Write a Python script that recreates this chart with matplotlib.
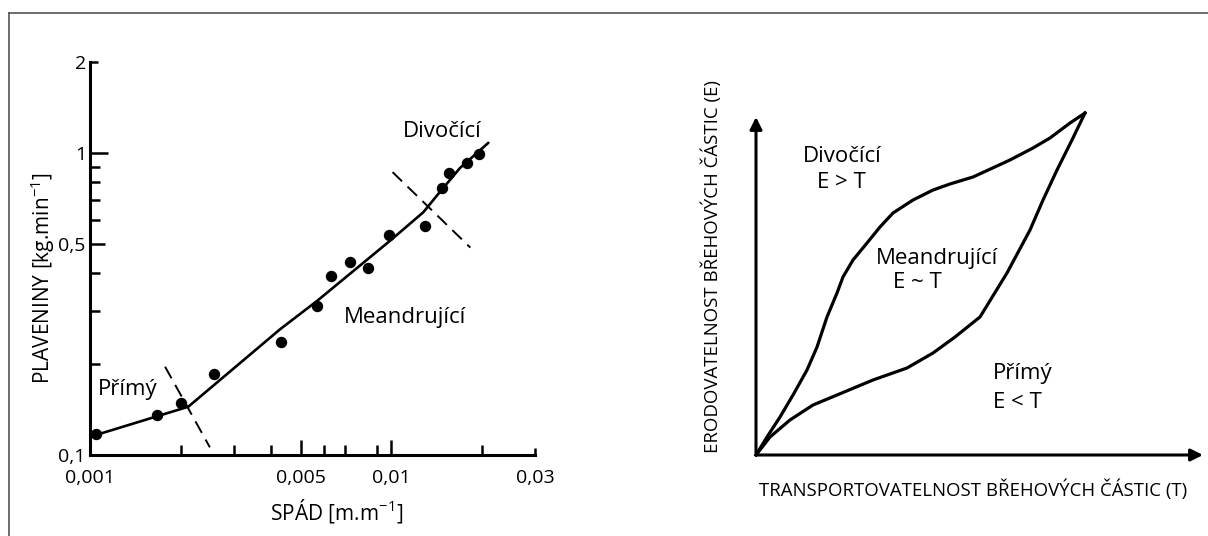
import matplotlib
matplotlib.use("Agg")
import matplotlib.pyplot as plt
from matplotlib.lines import Line2D

# ---------------- data ----------------
# left panel: measured points (slope, suspended load)
slope_pts = [0.00105, 0.00167, 0.0020, 0.00258, 0.00431, 0.00568, 0.00632, 0.0073,
             0.0084, 0.0098, 0.0129, 0.0147, 0.0156, 0.0178, 0.0196]
load_pts = [0.1175, 0.136, 0.149, 0.185, 0.236, 0.311, 0.392, 0.436,
            0.417, 0.533, 0.571, 0.764, 0.858, 0.926, 0.99]
# fitted trend line
slope_fit = [0.00105, 0.00212, 0.00428, 0.00568, 0.00993, 0.01277, 0.0142, 0.0169, 0.021]
load_fit = [0.1166, 0.1445, 0.261, 0.324, 0.513, 0.636, 0.724, 0.891, 1.08]
# dashed boundaries between channel types
bound1_x = [0.001775, 0.0025]
bound1_y = [0.196, 0.106]
bound2_x = [0.0101, 0.0183]
bound2_y = [0.864, 0.486]
# axis ticks
x_major = [0.001, 0.005, 0.01, 0.03]
x_major_labels = ["0,001", "0,005", "0,01", "0,03"]
x_minor = [0.002, 0.003, 0.004, 0.006, 0.007, 0.009, 0.02]
y_major = [0.1, 0.5, 1, 2]
y_major_labels = ["0,1", "0,5", "1", "2"]
y_minor = [0.2, 0.3, 0.4, 0.6, 0.7, 0.8, 0.9]

# right panel: schematic curves (T, E) in relative units
upper_T = [0.0, 0.0246, 0.0537, 0.0828, 0.1141, 0.1365, 0.1588, 0.1812, 0.1946, 0.2170,
           0.2483, 0.2774, 0.3065, 0.3512, 0.3960, 0.4340, 0.4855, 0.5682, 0.6197, 0.6577,
           0.7025, 0.7360]
upper_E = [0.0, 0.0533, 0.1124, 0.1775, 0.2515, 0.3195, 0.4083, 0.4793, 0.5266, 0.5769,
           0.6272, 0.6746, 0.7160, 0.7544, 0.7840, 0.8018, 0.8225, 0.8728, 0.9083, 0.9379,
           0.9822, 1.0118]
lower_T = [0.0, 0.0313, 0.0761, 0.1275, 0.1812, 0.2617, 0.3378, 0.3960, 0.4452, 0.5011,
           0.5615, 0.6130, 0.6421, 0.6734, 0.7069, 0.7360]
lower_E = [0.0, 0.0533, 0.1036, 0.1479, 0.1775, 0.2219, 0.2574, 0.3018, 0.3491, 0.4083,
           0.5385, 0.6657, 0.7544, 0.8432, 0.9320, 1.0118]

# ---------------- figure ----------------
W, H = 1208, 536
plt.rcParams['font.family'] = ['Open Sans', 'DejaVu Sans']
plt.rcParams['mathtext.fontset'] = 'custom'
plt.rcParams['mathtext.rm'] = 'Open Sans'
plt.rcParams['mathtext.it'] = 'Open Sans'

fig = plt.figure(figsize=(W / 100, H / 100), dpi=100)
fig.patch.set_facecolor('white')

def fx(px):
    return px / W

def fy(py):
    return 1 - py / H

# border lines
fig.add_artist(Line2D([fx(9), 1.0], [fy(13), fy(13)], color='#555555', lw=1.2))
fig.add_artist(Line2D([fx(9), fx(9)], [fy(13), 0.0], color='#555555', lw=1.2))

# ---------------- left panel ----------------
ax = fig.add_axes([fx(90), fy(455), (535 - 90) / W, (455 - 62) / H])
ax.set_xscale('log')
ax.set_yscale('log')
ax.set_xlim(0.001, 0.03)
ax.set_ylim(0.1, 2)
for s in ['top', 'right']:
    ax.spines[s].set_visible(False)
for s in ['left', 'bottom']:
    ax.spines[s].set_linewidth(2.2)
ax.set_xticks(x_major)
ax.set_xticklabels(x_major_labels)
ax.set_xticks(x_minor, minor=True)
ax.set_xticklabels([], minor=True)
ax.set_yticks(y_major)
ax.set_yticklabels(y_major_labels)
ax.set_yticks(y_minor, minor=True)
ax.set_yticklabels([], minor=True)
ax.tick_params(which='major', direction='in', length=11, width=1.8, labelsize=14, pad=3)
ax.tick_params(axis='x', which='major', pad=10)
ax.tick_params(which='minor', direction='in', length=7, width=1.8)
# end ticks are short, tick at 1 is longer
ax.xaxis.get_major_ticks()[-1].tick1line.set_markersize(5)
ax.yaxis.get_major_ticks()[-1].tick1line.set_markersize(6)
ax.yaxis.get_major_ticks()[2].tick1line.set_markersize(13)

ax.plot(slope_fit, load_fit, color='black', lw=1.9, solid_joinstyle='round', solid_capstyle='round')
ax.plot(slope_pts, load_pts, 'o', color='black', ms=7.2)
lw_d = 1.4
ax.plot(bound1_x, bound1_y, color='black', lw=lw_d, dashes=(9.5 / lw_d, 5.5 / lw_d))
ax.plot(bound2_x, bound2_y, color='black', lw=lw_d, dashes=(9.5 / lw_d, 5.5 / lw_d))

fig.text(fx(442), fy(132), "Divočící", fontsize=16, ha='center', va='center')
fig.text(fx(405), fy(317), "Meandrující", fontsize=16, ha='center', va='center')
fig.text(fx(128), fy(390), "Přímý", fontsize=16, ha='center', va='center')

fig.text(fx(43), fy(278), r"PLAVENINY [kg.min$^{\mathregular{-1}}$]", fontsize=15,
         rotation=90, ha='center', va='center')
fig.text(fx(337), fy(511), r"SPÁD [m.m$^{\mathregular{-1}}$]", fontsize=15,
         ha='center', va='center')

# ---------------- right panel ----------------
ax2 = fig.add_axes([fx(756), fy(455), (1203 - 756) / W, (455 - 117) / H])
ax2.set_xlim(0, 1)
ax2.set_ylim(0, 1)
ax2.axis('off')
arrow_kw = dict(arrowstyle='-|>', lw=2.2, color='black', mutation_scale=18,
                shrinkA=0, shrinkB=0)
ax2.annotate('', xy=(1, 0), xytext=(0, 0), arrowprops=arrow_kw, annotation_clip=False)
ax2.annotate('', xy=(0, 1), xytext=(0, 0), arrowprops=arrow_kw, annotation_clip=False)
ax2.plot(upper_T, upper_E, color='black', lw=2.3, solid_joinstyle='round', clip_on=False)
ax2.plot(lower_T, lower_E, color='black', lw=2.3, solid_joinstyle='round', clip_on=False)

fig.text(fx(842), fy(157), "Divočící", fontsize=16, ha='center', va='center')
fig.text(fx(841), fy(182), "E > T", fontsize=16, ha='center', va='center')
fig.text(fx(937), fy(259), "Meandrující", fontsize=16, ha='center', va='center')
fig.text(fx(917), fy(283), "E ~ T", fontsize=16, ha='center', va='center')
fig.text(fx(993), fy(374), "Přímý", fontsize=16, ha='left', va='center')
fig.text(fx(993), fy(402), "E < T", fontsize=16, ha='left', va='center')

fig.text(fx(712), fy(267), "ERODOVATELNOST BŘEHOVÝCH ČÁSTIC (E)", fontsize=13.4,
         rotation=90, ha='center', va='center')
fig.text(fx(973), fy(490), "TRANSPORTOVATELNOST BŘEHOVÝCH ČÁSTIC (T)", fontsize=13.4,
         ha='center', va='center')

fig.savefig("out.png", dpi=100)
